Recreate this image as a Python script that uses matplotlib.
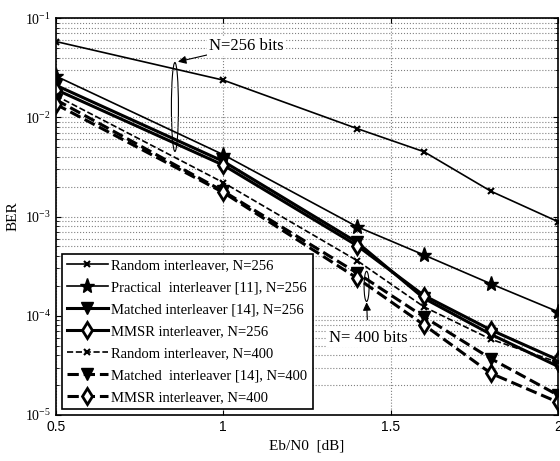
import matplotlib
matplotlib.use("Agg")
import matplotlib.pyplot as plt
from matplotlib.patches import Ellipse
from matplotlib.ticker import LogLocator, NullFormatter

plt.rcParams['font.family'] = 'Liberation Serif'
plt.rcParams['mathtext.fontset'] = 'custom'
plt.rcParams['mathtext.rm'] = 'Liberation Sans'
plt.rcParams['mathtext.it'] = 'Liberation Sans'

# Eb/N0 points [dB]
ebn0 = [0.5, 1.0, 1.4, 1.6, 1.8, 2.0]

# BER values
random_256 = [0.058, 0.0237, 0.0077, 0.0045, 0.0018, 0.00089]
practical_256 = [0.026, 0.0042, 0.00079, 0.00041, 0.00021, 0.00011]
matched_256 = [0.021, 0.0036, 0.00055, 0.00015, 0.000065, 0.000031]
mmsr_256 = [0.019, 0.0033, 0.00051, 0.00016, 0.000072, 0.000036]
random_400 = [0.0165, 0.0022, 0.00036, 0.000123, 0.000058, 0.000034]
matched_400 = [0.015, 0.0018, 0.00027, 0.0000976, 0.000037, 0.0000159]
mmsr_400 = [0.0135, 0.00175, 0.00024, 0.000081, 0.0000263, 0.0000135]

fig = plt.figure(figsize=(5.6, 4.61), dpi=100)
ax = fig.add_axes([0.1, 0.0998, 0.896, 0.861])

ax.semilogy(ebn0, random_256, 'k-', lw=1.2, marker='x', ms=4, mew=1.5,
            label='Random interleaver, N=256')
ax.semilogy(ebn0, practical_256, 'k-', lw=1.2, marker='*', ms=11,
            label='Practical  interleaver [11], N=256')
ax.semilogy(ebn0, matched_256, 'k-', lw=2.2, marker='v', ms=8,
            label='Matched interleaver [14], N=256')
ax.semilogy(ebn0, mmsr_256, 'k-', lw=2.2, marker='d', ms=8, mfc='white', mew=2,
            label='MMSR interleaver, N=256')
ax.semilogy(ebn0, random_400, 'k--', lw=1.2, marker='x', ms=4, mew=1.5,
            label='Random interleaver, N=400')
ax.semilogy(ebn0, matched_400, 'k--', lw=2.2, marker='v', ms=8,
            label='Matched  interleaver [14], N=400')
ax.semilogy(ebn0, mmsr_400, 'k--', lw=2.2, marker='d', ms=8, mfc='white', mew=2,
            label='MMSR interleaver, N=400')

ax.set_xlim(0.5, 2.0)
ax.set_ylim(1e-5, 1e-1)
ax.set_xticks([0.5, 1, 1.5, 2])
ax.set_xticklabels(['0.5', '1', '1.5', '2'], family='Liberation Sans')
ax.yaxis.set_minor_locator(LogLocator(base=10, subs=range(2, 10), numticks=20))
ax.yaxis.set_minor_formatter(NullFormatter())
ax.tick_params(which='both', direction='in', top=True, right=True, labelsize=10)
ax.grid(True, which='major', color='0.5', ls=':', lw=0.8)
ax.grid(True, which='minor', axis='y', color='0.5', ls=':', lw=0.8)
for s in ax.spines.values():
    s.set_linewidth(1.2)

ax.set_xlabel('Eb/N0  [dB]', fontsize=11)
ax.set_ylabel('BER', fontsize=11)

leg = ax.legend(loc='lower left', bbox_to_anchor=(0.0, 0.0), fontsize=10.5,
                handlelength=2.8, handletextpad=0.25, labelspacing=0.6,
                borderpad=0.35, borderaxespad=0.4,
                fancybox=False, framealpha=1, edgecolor='k')
leg.get_frame().set_linewidth(1.2)

# annotations
ax.add_patch(Ellipse((0.237, 0.776), 0.014, 0.224, transform=ax.transAxes,
                     fill=False, ec='k', lw=0.8))
ax.annotate('N=256 bits', xy=(0.243, 0.89), xycoords='axes fraction',
            xytext=(0.305, 0.93), textcoords='axes fraction',
            fontsize=12, va='center', ha='left',
            bbox=dict(boxstyle='square,pad=0.1', fc='white', ec='none'),
            arrowprops=dict(arrowstyle='-|>', color='k', lw=0.8, shrinkA=0, shrinkB=0))

ax.add_patch(Ellipse((0.619, 0.324), 0.01, 0.076, transform=ax.transAxes,
                     fill=False, ec='k', lw=0.8))
ax.annotate('N= 400 bits', xy=(0.619, 0.284), xycoords='axes fraction',
            xytext=(0.622, 0.195), textcoords='axes fraction',
            fontsize=12, va='center', ha='center',
            bbox=dict(boxstyle='square,pad=0.1', fc='white', ec='none'),
            arrowprops=dict(arrowstyle='-|>', color='k', lw=0.8, shrinkA=6, shrinkB=0))

fig.savefig('out.png', dpi=100)
